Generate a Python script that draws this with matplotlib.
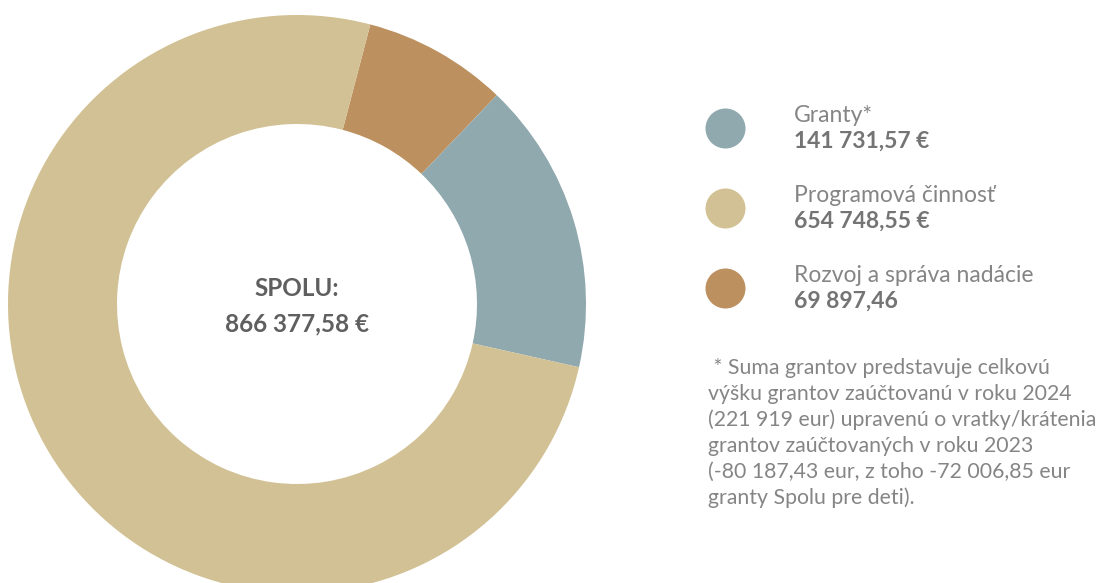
import matplotlib
matplotlib.use("Agg")
import matplotlib.pyplot as plt

plt.rcParams['font.family'] = ['Lato', 'DejaVu Sans']

labels = ['Rozvoj a správa nadácie', 'Granty*', 'Programová činnosť']
values = [69897.46, 141731.57, 654748.55]
colors = ['#bc915f', '#90a9ae', '#d2c194']

legend_labels = ['Granty*', 'Programová činnosť', 'Rozvoj a správa nadácie']
legend_values = ['141 731,57 €', '654 748,55 €', '69 897,46']
legend_colors = ['#90a9ae', '#d2c194', '#bc915f']

total_label = 'SPOLU:'
total_value = '866 377,58 €'
note = (" * Suma grantov predstavuje celkovú\n"
        "výšku grantov zaúčtovanú v roku 2024\n"
        "(221 919 eur) upravenú o vratky/krátenia\n"
        "grantov zaúčtovaných v roku 2023\n"
        "(-80 187,43 eur, z toho -72 006,85 eur\n"
        "granty Spolu pre deti).")

W, H = 1103, 583
fig = plt.figure(figsize=(W / 100, H / 100), dpi=100)
ax = fig.add_axes([0, 0, 1, 1])

# donut, pixel coordinates with origin at bottom-left
cx, cy, r = 297, H - 304, 289
ax.pie(values, colors=colors, startangle=75.3, counterclock=False,
       center=(cx, cy), radius=r,
       wedgeprops=dict(width=r - 180, linewidth=0))
ax.set_xlim(0, W)
ax.set_ylim(0, H)
ax.set_aspect('equal')
ax.axis('off')

ax.text(cx, H - 288, total_label, ha='center', va='center',
        fontsize=17.5, fontweight='bold', color='#5f5f5f')
ax.text(cx, H - 324, total_value, ha='center', va='center',
        fontsize=17.5, fontweight='bold', color='#5f5f5f')

# legend
for i, (lab, val, col) in enumerate(zip(legend_labels, legend_values, legend_colors)):
    y = H - 128 - i * 80
    ax.scatter([725], [y], s=830, color=col, linewidths=0)
    ax.text(794, y + 13, lab, ha='left', va='center', fontsize=16.5, color='#858585')
    ax.text(794, y - 13, val, ha='left', va='center', fontsize=16.5,
            fontweight='bold', color='#747474')

ax.text(708, H - 358, note, ha='left', va='top', fontsize=15.3,
        color='#858585', linespacing=1.36)

fig.savefig('out.png', dpi=100)
